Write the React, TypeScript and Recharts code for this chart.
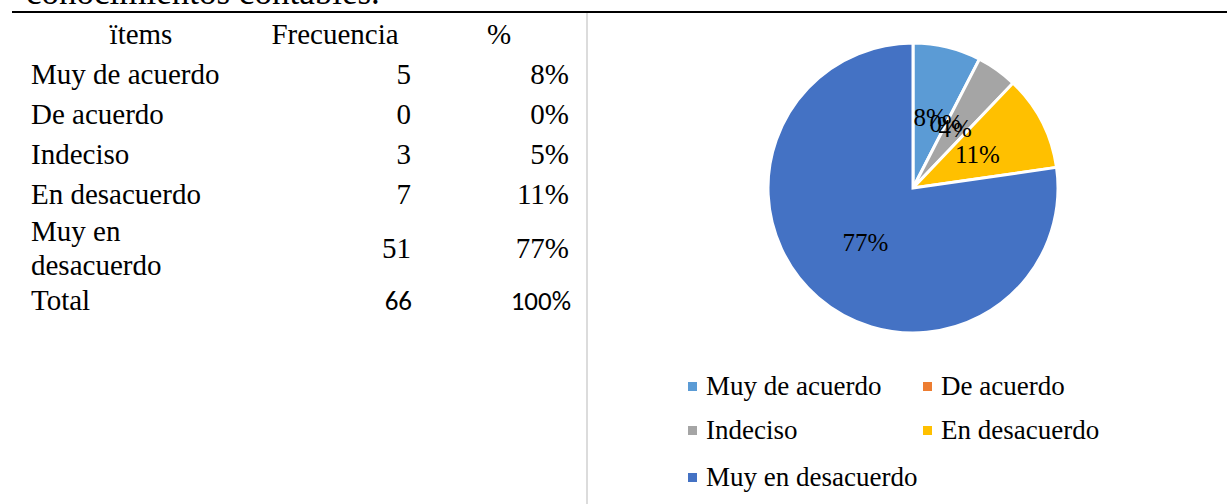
import React from 'react';
import { PieChart, Pie, Cell, Legend } from 'recharts';

const categories = ['Muy de acuerdo', 'De acuerdo', 'Indeciso', 'En desacuerdo', 'Muy en desacuerdo'];
const tableLabels = ['Muy de acuerdo', 'De acuerdo', 'Indeciso', 'En desacuerdo', 'Muy en\ndesacuerdo'];
const frequencies = [5, 0, 3, 7, 51];
const tablePercents = ['8%', '0%', '5%', '11%', '77%'];
const pieLabels = ['8%', '0%', '4%', '11%', '77%'];
const colors = ['#5B9BD5', '#ED7D31', '#A5A5A5', '#FFC000', '#4472C4'];
const headers = ['ïtems', 'Frecuencia', '%'];
const totalLabel = 'Total';
const totalFrequency = '66';
const totalPercent = '100%';
const titleText = 'conocimientos contables.';

const pieData = categories.map((name, i) => ({ name, value: frequencies[i] }));

const SERIF = '"Liberation Serif", "Times New Roman", serif';
const SANS = 'Carlito, Lato, "Liberation Sans", sans-serif';
const RADIAN = Math.PI / 180;

const renderLabel = (props: any) => {
  const { cx, cy, midAngle, outerRadius, index } = props;
  const r = outerRadius * 0.5;
  const x = cx + r * Math.cos(-midAngle * RADIAN);
  const y = cy + r * Math.sin(-midAngle * RADIAN);
  return (
    <text x={x} y={y} textAnchor="middle" dominantBaseline="central" fontFamily={SERIF} fontSize={25} fill="#000">
      {pieLabels[index]}
    </text>
  );
};

const legendPos = [
  { x: 0, y: 0 },
  { x: 235, y: 0 },
  { x: 0, y: 44 },
  { x: 235, y: 44 },
  { x: 0, y: 91 },
];

const renderLegend = () => (
  <div style={{ position: 'relative', width: 460, height: 130 }}>
    {categories.map((c, i) => (
      <div
        key={c}
        style={{
          position: 'absolute',
          left: legendPos[i].x,
          top: legendPos[i].y,
          height: 30,
          display: 'flex',
          alignItems: 'center',
          whiteSpace: 'nowrap',
        }}
      >
        <span style={{ display: 'inline-block', width: 9, height: 9, background: colors[i], marginRight: 9 }} />
        <span style={{ fontFamily: SERIF, fontSize: 27, color: '#000', lineHeight: '30px' }}>{c}</span>
      </div>
    ))}
  </div>
);

const rowCenters = [74, 114, 154, 194, 248];

const Cell2 = ({ text, cx, left, right, y, font = SERIF, size = 29 }: any) => {
  const style: any = {
    position: 'absolute',
    top: y - 17,
    lineHeight: '34px',
    fontFamily: font,
    fontSize: size,
    color: '#000',
    whiteSpace: 'pre',
  };
  if (cx !== undefined) {
    style.left = cx - 150;
    style.width = 300;
    style.textAlign = 'center';
  } else if (right !== undefined) {
    style.right = 1227 - right;
    style.textAlign = 'right';
  } else {
    style.left = left;
  }
  return <div style={style}>{text}</div>;
};

export default function App() {
  return (
    <div style={{ position: 'absolute', left: 0, top: 0, width: 1227, height: 504, background: '#fff', overflow: 'hidden' }}>
      <div style={{ position: 'absolute', left: 26, top: -25, fontFamily: SERIF, fontSize: 35, lineHeight: '35px', whiteSpace: 'nowrap' }}>
        {titleText}
      </div>
      <div style={{ position: 'absolute', left: 12, top: 11, width: 1215, height: 2, background: '#000' }} />
      <div style={{ position: 'absolute', left: 586, top: 13, width: 2, height: 491, background: '#dcdcdc' }} />

      <Cell2 text={headers[0]} cx={141} y={34} />
      <Cell2 text={headers[1]} cx={335} y={34} />
      <Cell2 text={headers[2]} cx={499} y={34} />

      {tableLabels.map((t, i) => (
        <React.Fragment key={t}>
          {i === 4 ? (
            <div
              style={{
                position: 'absolute',
                left: 31,
                top: rowCenters[i] - 34,
                lineHeight: '34px',
                fontFamily: SERIF,
                fontSize: 29,
                whiteSpace: 'pre',
              }}
            >
              {t}
            </div>
          ) : (
            <Cell2 text={t} left={31} y={rowCenters[i]} />
          )}
          <Cell2 text={String(frequencies[i])} right={411} y={rowCenters[i]} />
          <Cell2 text={tablePercents[i]} right={569} y={rowCenters[i]} />
        </React.Fragment>
      ))}
      <Cell2 text={totalLabel} left={31} y={300} />
      <Cell2 text={totalFrequency} right={412} y={301} font={SANS} size={27} />
      <Cell2 text={totalPercent} right={571} y={301} font={SANS} size={27} />

      <div style={{ position: 'absolute', left: 0, top: 0 }}>
        <PieChart width={1227} height={504}>
          <Pie
            data={pieData}
            dataKey="value"
            nameKey="name"
            cx={908}
            cy={183}
            outerRadius={145}
            startAngle={90}
            endAngle={-270}
            stroke="#fff"
            strokeWidth={3}
            label={renderLabel}
            labelLine={false}
            isAnimationActive={false}
          >
            {pieData.map((d, i) => (
              <Cell key={d.name} fill={colors[i]} />
            ))}
          </Pie>
          <Legend
            content={renderLegend}
            wrapperStyle={{ position: 'absolute', left: 688, top: 371, width: 460, height: 130 }}
          />
        </PieChart>
      </div>
    </div>
  );
}
